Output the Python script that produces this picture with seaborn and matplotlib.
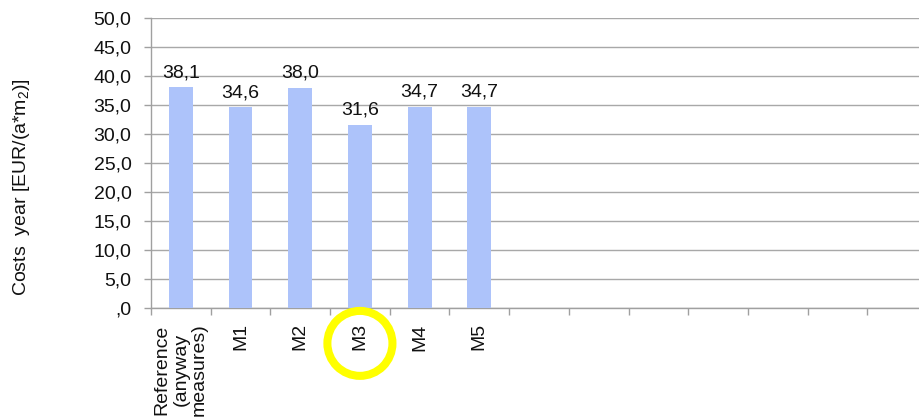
import matplotlib
matplotlib.use("Agg")
import matplotlib.pyplot as plt
import matplotlib.transforms as mtransforms
from matplotlib.patches import Ellipse
from matplotlib.ticker import FixedLocator, FuncFormatter
import seaborn as sns

# Annual costs per measure variant
categories = ["Reference\n(anyway\nmeasures)", "M1", "M2", "M3", "M4", "M5"]
costs = [38.1, 34.6, 38.0, 31.6, 34.7, 34.7]
value_labels = ["38,1", "34,6", "38,0", "31,6", "34,7", "34,7"]
n_slots = 13            # category slots on the x axis (the rest stay empty)
highlight = "M3"        # variant circled below the axis

FS = 14

sns.set_theme(style="white")
plt.rcParams["font.family"] = ["Liberation Sans", "DejaVu Sans"]
plt.rcParams["mathtext.fontset"] = "custom"
plt.rcParams["mathtext.rm"] = "Liberation Sans"
plt.rcParams["mathtext.it"] = "Liberation Sans"

fig = plt.figure(figsize=(9.2, 4.18), dpi=100)
ax = fig.add_axes([151 / 920, 110 / 418, 776 / 920, 290 / 418])

sns.barplot(x=categories, y=costs, color="#adc3fa", saturation=1,
            width=0.4, ax=ax, zorder=3, linewidth=0)

ax.set_xlim(-0.5, n_slots - 0.5)
ax.set_ylim(0, 50)

# y axis: comma decimal separator, ",0" for zero
ax.yaxis.set_major_locator(FixedLocator(range(0, 51, 5)))
ax.yaxis.set_major_formatter(
    FuncFormatter(lambda v, _: ",0" if v == 0 else f"{v:.1f}".replace(".", ",")))
ax.tick_params(axis="y", which="major", length=5, width=1, color="#a0a0a0",
               pad=9, labelsize=FS, labelcolor="#111111", left=True)
ax.grid(axis="y", color="#a8a8a8", linewidth=1, zorder=0)
ax.set_axisbelow(True)

# x axis: labels at category centres, tick marks at the boundaries
ax.set_xticks(range(len(categories)))
ax.set_xticklabels(categories, rotation=90, fontsize=FS, color="#111111",
                   va="top", ha="center", multialignment="center",
                   linespacing=1.12)
ax.set_xticks([i - 0.5 for i in range(n_slots + 1)], minor=True)
ax.tick_params(axis="x", which="major", length=0, pad=11)
ax.tick_params(axis="x", which="minor", length=5, width=1, color="#a0a0a0",
               bottom=True)

for side in ("top", "right"):
    ax.spines[side].set_visible(False)
for side in ("left", "bottom"):
    ax.spines[side].set_color("#a0a0a0")
    ax.spines[side].set_linewidth(1)

ax.set_xlabel("")
ax.set_ylabel(r"Costs  year [EUR/(a*m$_2$)]", fontsize=FS, color="#111111")
ax.yaxis.set_label_coords(-0.153, 0.417)

# value labels above the bars
for i, (v, lab) in enumerate(zip(costs, value_labels)):
    ax.annotate(lab, (i, v), xytext=(0, 7.2), textcoords="offset points",
                ha="center", va="baseline", fontsize=FS, color="#111111")

# yellow ring around the highlighted variant's label
trans = mtransforms.blended_transform_factory(ax.transData, ax.transAxes)
hx = categories.index(highlight)
ring = Ellipse((hx, -0.122), width=1.09, height=0.224, transform=trans,
               fill=False, edgecolor="#ffff00", linewidth=5.8, clip_on=False,
               zorder=5)
ax.add_patch(ring)

fig.savefig("out.png", dpi=100)
